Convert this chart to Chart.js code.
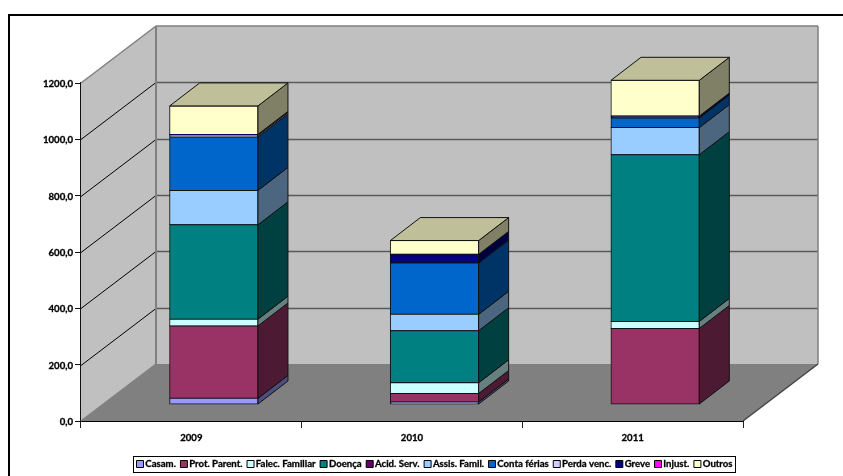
<!DOCTYPE html>
<html>
<head>
<meta charset="utf-8">
<style>html,body{margin:0;padding:0;background:#fff}canvas{display:block}</style>
<script src="https://cdn.jsdelivr.net/npm/chart.js@4/dist/chart.umd.min.js"></script>
</head>
<body>
<canvas id="c" width="843" height="476"></canvas>
<script>
const categories = ['2009', '2010', '2011'];
const tickValues = [0, 200, 400, 600, 800, 1000, 1200];

const casam       = [22, 9, 0];
const protParent  = [257, 30, 270];
const falecFamil  = [24, 38, 25];
const doenca      = [335, 185, 592];
const acidServ    = [0, 0, 0];
const assisFamil  = [122, 58, 96];
const contaFerias = [190, 182, 34];
const perdaVenc   = [6, 0, 0];
const greve       = [3, 31, 7];
const injust      = [0, 0, 0];
const outros      = [101, 49, 127];

const seriesNames  = ['Casam.', 'Prot. Parent.', 'Falec. Familiar', 'Doença', 'Acid. Serv.', 'Assis. Famil.', 'Conta férias', 'Perda venc.', 'Greve', 'Injust.', 'Outros'];
const seriesValues = [casam, protParent, falecFamil, doenca, acidServ, assisFamil, contaFerias, perdaVenc, greve, injust, outros];
const seriesColors = [[153,153,255],[153,51,102],[204,255,255],[0,128,128],[102,0,102],[153,204,255],[0,102,204],[204,204,255],[0,0,128],[255,0,255],[255,255,204]];

const DEPTH = {x: 75, y: -57};       // full floor depth
const BAR_OFF = {x: 22.5, y: -16.5}; // bars sit inside the floor
const BAR_DEPTH = {x: 30, y: -23};   // depth of each bar
const FONT = 'Lato, Carlito, sans-serif';

const rgb = (c, k) => `rgb(${c.map(v => Math.round(v * k)).join(',')})`;

function poly(ctx, pts, fill, stroke, lw) {
  ctx.beginPath();
  pts.forEach((p, i) => i ? ctx.lineTo(p[0], p[1]) : ctx.moveTo(p[0], p[1]));
  ctx.closePath();
  if (fill) { ctx.fillStyle = fill; ctx.fill(); }
  if (stroke) { ctx.strokeStyle = stroke; ctx.lineWidth = lw || 1; ctx.stroke(); }
}
function line(ctx, x1, y1, x2, y2, color, lw) {
  ctx.beginPath(); ctx.moveTo(x1, y1); ctx.lineTo(x2, y2);
  ctx.strokeStyle = color; ctx.lineWidth = lw; ctx.stroke();
}

const box3d = {
  id: 'box3d',
  beforeDraw(chart) {
    const ctx = chart.ctx, {width, height} = chart;
    ctx.save();
    ctx.fillStyle = '#fff'; ctx.fillRect(0, 0, width, height);
    ctx.fillStyle = '#000';
    ctx.fillRect(8, 14, width - 8, 2);
    ctx.fillRect(8, 14, 2, height - 14);
    ctx.restore();
  },
  beforeDatasetsDraw(chart) {
    const ctx = chart.ctx, a = chart.chartArea, y = chart.scales.y;
    const dx = DEPTH.x, dy = DEPTH.y;
    ctx.save();
    // back wall
    poly(ctx, [[a.left+dx,a.top+dy],[a.right+dx,a.top+dy],[a.right+dx,a.bottom+dy],[a.left+dx,a.bottom+dy]], '#c0c0c0');
    // side wall
    poly(ctx, [[a.left,a.top],[a.left+dx,a.top+dy],[a.left+dx,a.bottom+dy],[a.left,a.bottom]], '#c0c0c0');
    // floor
    poly(ctx, [[a.left,a.bottom],[a.right,a.bottom],[a.right+dx,a.bottom+dy],[a.left+dx,a.bottom+dy]], '#808080');
    // gridlines
    tickValues.slice(1, -1).forEach(v => {
      const p = Math.round(y.getPixelForValue(v)) + 0.5;
      line(ctx, a.left, p, a.left + dx, p + dy, '#000', 1);
      line(ctx, a.left + dx, p + dy, a.right + dx, p + dy, '#5a5a5a', 1.5);
    });
    // wall edges
    const g = '#808080';
    line(ctx, a.left, a.top, a.left+dx, a.top+dy, g, 1.5);
    line(ctx, a.left+dx, a.top+dy, a.right+dx, a.top+dy, g, 1.5);
    line(ctx, a.left+dx, a.top+dy, a.left+dx, a.bottom+dy, g, 2);
    line(ctx, a.right+dx, a.top+dy, a.right+dx, a.bottom+dy, g, 1.5);
    line(ctx, a.left, a.bottom, a.left+dx, a.bottom+dy, g, 1.5);
    line(ctx, a.right, a.bottom, a.right+dx, a.bottom+dy, '#444', 1.5);
    ctx.restore();
    // front faces of bars are drawn by Chart.js, pushed into the floor
    ctx.save();
    ctx.translate(BAR_OFF.x, BAR_OFF.y);
  },
  afterDatasetsDraw(chart) {
    const ctx = chart.ctx;
    const ox = BAR_DEPTH.x, oy = BAR_DEPTH.y;
    const tops = {};
    chart.data.datasets.forEach((ds, i) => {
      const meta = chart.getDatasetMeta(i);
      meta.data.forEach((el, j) => {
        if (!(ds.data[j] > 0)) return;
        const r = el.x + el.width / 2, l = el.x - el.width / 2;
        poly(ctx, [[r,el.y],[r+ox,el.y+oy],[r+ox,el.base+oy],[r,el.base]], rgb(seriesColors[i], 0.5), '#111', 1);
        tops[j] = {l, r, y: el.y, c: seriesColors[i]};
      });
    });
    Object.values(tops).forEach(t => {
      poly(ctx, [[t.l,t.y],[t.r,t.y],[t.r+ox,t.y+oy],[t.l+ox,t.y+oy]], rgb(t.c, 0.75), '#111', 1);
    });
    ctx.restore();
    drawLegend(ctx);
  }
};

function drawLegend(ctx) {
  const left = 133, top = 456, w = 602, h = 16;
  ctx.save();
  ctx.fillStyle = '#fff'; ctx.fillRect(left, top, w, h);
  ctx.strokeStyle = '#000'; ctx.lineWidth = 1;
  ctx.strokeRect(left + .5, top + .5, w, h);
  ctx.font = 'bold 9.6px ' + FONT;
  ctx.textBaseline = 'middle';
  ctx.textAlign = 'left';
  ctx.lineJoin = 'round';
  let x = 136;
  seriesNames.forEach((name, i) => {
    ctx.fillStyle = rgb(seriesColors[i], 1);
    ctx.fillRect(x + .5, top + 4.5, 7, 7);
    ctx.strokeStyle = '#000'; ctx.lineWidth = 1;
    ctx.strokeRect(x + .5, top + 4.5, 7, 7);
    ctx.fillStyle = '#000';
    ctx.lineWidth = 0.3;
    ctx.strokeText(name, x + 9.3, top + 8);
    ctx.fillText(name, x + 9.3, top + 8);
    x += 9.3 + ctx.measureText(name).width + 4;
  });
  ctx.restore();
}

new Chart(document.getElementById('c'), {
  type: 'bar',
  data: {
    labels: categories,
    datasets: seriesValues.map((vals, i) => ({
      label: seriesNames[i],
      data: vals,
      backgroundColor: rgb(seriesColors[i], 1),
      borderColor: '#111',
      borderWidth: ctx => ctx.raw > 0 ? 1 : 0,
      borderSkipped: false,
      inflateAmount: ctx => ctx.raw > 0 ? 0.5 : 0,
      clip: false,
      categoryPercentage: 1,
      barPercentage: 0.4
    }))
  },
  options: {
    responsive: false,
    devicePixelRatio: 1,
    animation: false,
    layout: {padding: {left: 0, top: 83, right: 100, bottom: 0}},
    plugins: {legend: {display: false}, tooltip: {enabled: false}, title: {display: false}},
    scales: {
      x: {
        stacked: true,
        afterFit: s => { s.height = 55; },
        border: {color: '#000', width: 2},
        grid: {drawOnChartArea: false, tickLength: 7, tickColor: '#222', offset: true},
        ticks: {color: '#000', padding: 4, maxRotation: 0, textStrokeColor: '#000', textStrokeWidth: 0.3, font: {family: FONT, weight: 'bold', size: 9.6}}
      },
      y: {
        stacked: true,
        min: 0, max: 1200,
        afterFit: s => { s.width = 81; },
        border: {color: '#111', width: 1.5},
        grid: {drawOnChartArea: false, tickLength: 6, tickColor: '#111'},
        ticks: {
          stepSize: 200, color: '#000', padding: 2, labelOffset: 1,
          textStrokeColor: '#000', textStrokeWidth: 0.3,
          font: {family: FONT, weight: 'bold', size: 9.6},
          callback: v => v.toFixed(1).replace('.', ',')
        }
      }
    }
  },
  plugins: [box3d]
});
</script>
</body>
</html>
